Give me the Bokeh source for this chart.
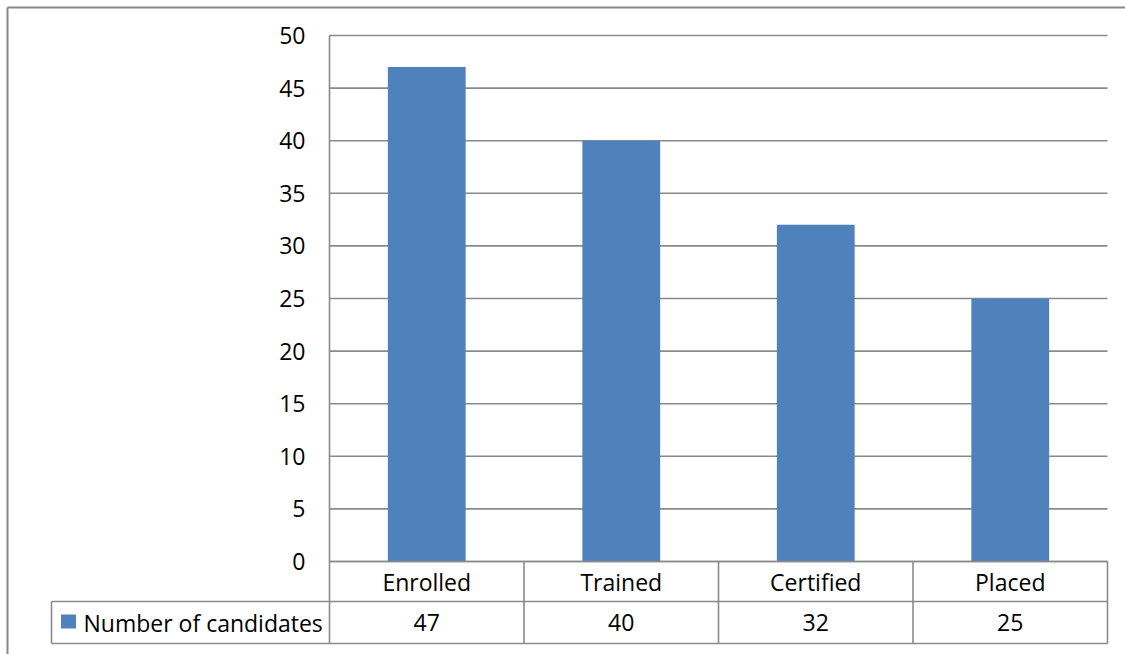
from bokeh.plotting import figure
from bokeh.models import Range1d
from bokeh.core.properties import value
from bokeh.embed import file_html
from bokeh.resources import INLINE

# ---- data ----
categories = ["Enrolled", "Trained", "Certified", "Placed"]
counts = [47, 40, 32, 25]
series_name = "Number of candidates"
y_ticks = [0, 5, 10, 15, 20, 25, 30, 35, 40, 45, 50]

# ---- layout (pixels) ----
W, H = 1125, 654
PLOT_L, PLOT_R = 329, 1107
PLOT_T, PLOT_B = 35, 561
ROW1_B, ROW2_B = 601, 643
LEG_L = 51
BORDER = 7
YMAX = y_ticks[-1]

BAR_COLOR = "#4F81BD"
LINE_COLOR = "#8A8A8A"
FONT = value("Open Sans")
FSIZE = "23px"

col_w = (PLOT_R - PLOT_L) / len(categories)
unit = (PLOT_B - PLOT_T) / YMAX


def X(px):
    return (px - PLOT_L) / col_w


def Y(py):
    return (PLOT_B - py) / unit


p = figure(width=W, height=H,
           x_range=Range1d(X(0), X(W)), y_range=Range1d(Y(H), Y(0)),
           output_backend="svg", toolbar_location=None,
           x_axis_location=None, y_axis_location=None,
           min_border=0, min_border_left=0, min_border_right=0,
           min_border_top=0, min_border_bottom=0,
           outline_line_color=None, background_fill_color="white",
           border_fill_color="white")
for g in p.grid:
    g.visible = False

n = len(categories)
centers = [i + 0.5 for i in range(n)]

# outer chart-area border (left and top visible)
p.segment(x0=[X(BORDER), X(BORDER)], y0=[Y(BORDER), Y(BORDER)],
          x1=[X(BORDER), X(W + 5)], y1=[Y(H + 5), Y(BORDER)],
          line_color="#878787", line_width=2)

# horizontal gridlines
p.segment(x0=[0] * len(y_ticks), x1=[n] * len(y_ticks), y0=y_ticks, y1=y_ticks,
          line_color=LINE_COLOR, line_width=1.6)

# bars
p.vbar(x=centers, top=counts, bottom=0, width=0.4,
       fill_color=BAR_COLOR, line_color=None)

# value axis line
p.segment(x0=[0], x1=[0], y0=[Y(PLOT_T)], y1=[Y(ROW2_B)],
          line_color=LINE_COLOR, line_width=1.6)

# value axis labels
p.text(x=[X(PLOT_L - 24)] * len(y_ticks), y=y_ticks,
       text=[str(t) for t in y_ticks], text_align="right", text_baseline="middle",
       text_font=FONT, text_font_size=FSIZE, text_color="#000000")

# data table grid
row1, row2 = Y(ROW1_B), Y(ROW2_B)
p.segment(x0=[0, X(LEG_L), X(LEG_L)], x1=[n, n, n],
          y0=[0, row1, row2], y1=[0, row1, row2],
          line_color=LINE_COLOR, line_width=1.6)
vx = list(range(1, n + 1))
p.segment(x0=vx, x1=vx, y0=[0] * n, y1=[row2] * n,
          line_color=LINE_COLOR, line_width=1.6)
p.segment(x0=[X(LEG_L)], x1=[X(LEG_L)], y0=[row1], y1=[row2],
          line_color=LINE_COLOR, line_width=1.6)

# table texts
p.text(x=centers, y=[row1 / 2] * n, text=categories,
       text_align="center", text_baseline="middle",
       text_font=FONT, text_font_size=FSIZE, text_color="#000000")
p.text(x=centers, y=[(row1 + row2) / 2] * n, text=[str(c) for c in counts],
       text_align="center", text_baseline="middle",
       text_font=FONT, text_font_size=FSIZE, text_color="#000000")

# legend key in table
p.rect(x=[X(68)], y=[Y(621)], width=15, height=14, width_units="screen",
       height_units="screen", fill_color=BAR_COLOR, line_color=None)
p.text(x=[X(83)], y=[(row1 + row2) / 2], text=[series_name],
       text_align="left", text_baseline="middle",
       text_font=FONT, text_font_size=FSIZE, text_color="#000000")

open("out.html", "w").write(file_html(p, INLINE))
